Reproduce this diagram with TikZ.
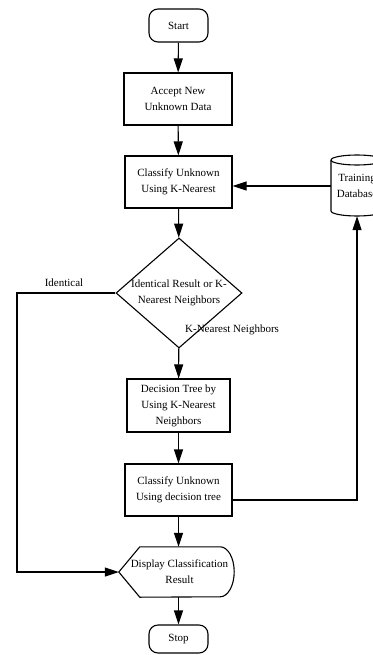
\documentclass[tikz,border=0pt]{standalone}
\usepackage{fontspec}
\setmainfont{Liberation Serif}
\usetikzlibrary{arrows.meta,shapes.geometric}
\begin{document}
\begin{tikzpicture}[x=1pt,y=-1pt,
  every node/.style={font=\fontsize{11}{16}\selectfont, align=center, inner sep=0pt},
  ln/.style={line width=1.1pt},
  arr/.style={ln, -{Triangle[length=14pt,width=9pt]}},
  term/.style={draw, ln, rounded corners=9pt, minimum width=59pt, minimum height=33pt},
  proc/.style={draw, ln, minimum width=107pt, minimum height=52pt},
  lbl/.style={font=\fontsize{11}{13}\selectfont}
]
\useasboundingbox (0,0) rectangle (372,655);
\node[term] (start) at (178.5,25.5) {Start};
\node[proc, minimum width=108pt] (acc) at (178,99) {Accept New\\Unknown Data};
\node[proc] (c1) at (178.5,182) {Classify Unknown\\Using K-Nearest};
\node[draw, ln, diamond, minimum width=126pt, minimum height=110pt] (d) at (179,293) {};
\node at (d) {Identical Result or K-\\Nearest Neighbors};
\node[proc, minimum width=103pt, minimum height=53pt] (dt) at (178.5,405.5) {Decision Tree by\\Using K-Nearest\\Neighbors};
\node[proc] (c3) at (178.5,490) {Classify Unknown\\Using decision tree};
\node[minimum width=115pt, minimum height=50pt] (disp) at (176.5,572) {\hspace*{6pt}Display Classification\\\hspace*{6pt}Result};
\draw[ln] (disp.west) -- ([xshift=21pt]disp.north west) -- ([xshift=-14pt]disp.north east)
  arc[start angle=90, end angle=-90, x radius=14pt, y radius=25pt]
  -- ([xshift=21pt]disp.south west) -- cycle;
\node[term, minimum height=28pt] (stop) at (178.5,639) {Stop};
% database cylinder
\node[minimum width=52pt, minimum height=60pt] (db) at (357,186) {Training\\Database};
\draw[ln] (331,160) -- (331,211) arc[start angle=180, end angle=360, x radius=26pt, y radius=5pt]
  -- (383,160) arc[start angle=0, end angle=180, x radius=26pt, y radius=5pt] -- cycle;
\draw[ln] (331,160) arc[start angle=180, end angle=360, x radius=26pt, y radius=5pt];
\coordinate (lft) at (17,293);
% connectors
\draw[arr] (start) -- (acc);
\draw[arr] (acc) -- (c1);
\draw[arr] (c1) -- (d);
\draw[arr] (d) -- (dt);
\draw[arr] (dt) -- (c3);
\draw[arr] (c3) -- (c3 |- disp.north);
\draw[arr] (disp.south -| stop) -- (stop);
\draw[arr] (db.west) -- (db.west -| c1.east);
\draw[arr] ([yshift=-10pt]c3.east) -| (db.south);
\draw[arr] (d.west) -- (lft) |- (disp.west);
\node[lbl] (lid) at (64,283) {Identical};
\node[lbl, anchor=west] (lkn) at (185,330) {K-Nearest Neighbors};
\end{tikzpicture}
\end{document}
